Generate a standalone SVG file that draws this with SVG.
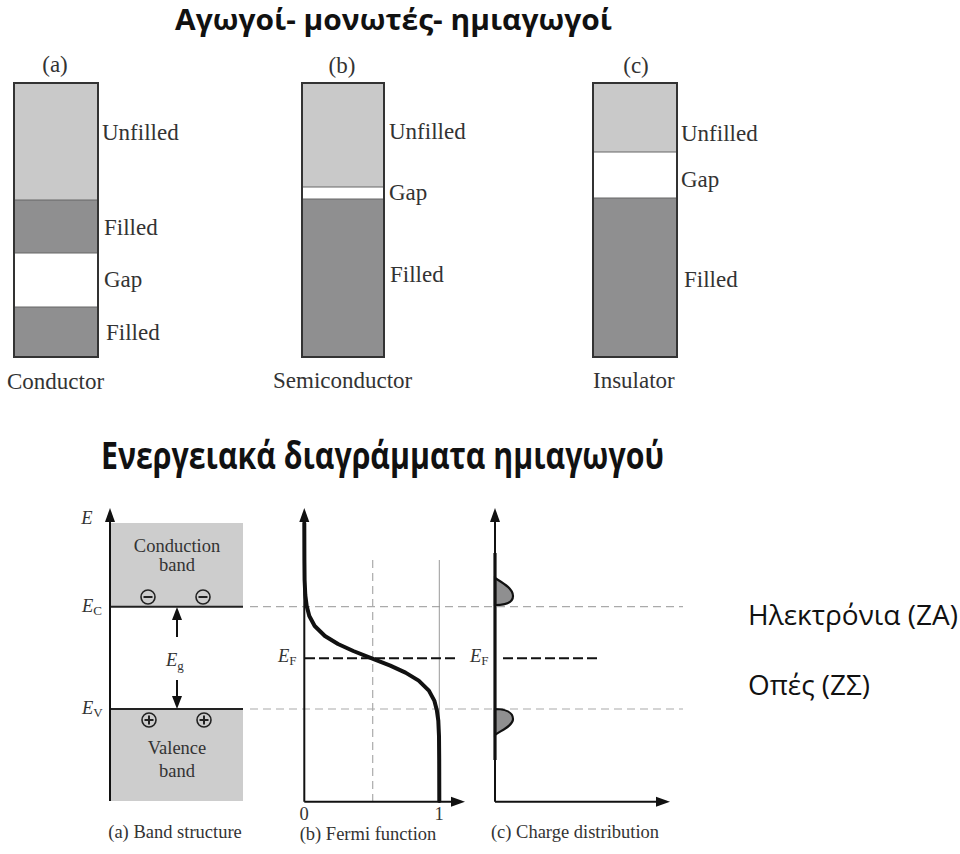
<svg xmlns="http://www.w3.org/2000/svg" width="960" height="854" viewBox="0 0 960 854">
<style>
.title{font-family:"Open Sans","Noto Sans","DejaVu Sans",sans-serif;font-weight:bold;fill:#111}
.greek{font-family:"Open Sans","Noto Sans","DejaVu Sans",sans-serif;fill:#111}
.lab{font-family:"Liberation Serif","Times New Roman",serif;font-size:23px;fill:#333}
.sm{font-family:"Liberation Serif","Times New Roman",serif;font-size:18.5px;fill:#333}
.it{font-style:italic}
.sub{font-size:13px}
.box{fill:none;stroke:#333;stroke-width:2}
.light{fill:#c9c9c9}
.dark{fill:#8f8f90}
.white{fill:#fff}
.sep{stroke:#666;stroke-width:1}
.band{fill:#cdcdcd}
.lvl{stroke:#222;stroke-width:2}
.axis{stroke:#111;stroke-width:2;fill:none}
.head{fill:#111}
.gdash{stroke:#aaa;stroke-width:1.2;stroke-dasharray:8 5;fill:none}
.gsolid{stroke:#999;stroke-width:1;fill:none}
.kdash{stroke:#111;stroke-width:2;stroke-dasharray:10 4;fill:none}
.circ{fill:none;stroke:#222;stroke-width:1.6}
.bump{fill:#8f8f90;stroke:#111;stroke-width:2.2}
</style>

<g id="title-top">
<text class="title" x="175" y="30" font-size="28" textLength="437" lengthAdjust="spacingAndGlyphs">Αγωγοί- μονωτές- ημιαγωγοί</text>
</g>

<g id="conductor">
<rect class="light" x="14" y="83" width="84" height="117"/>
<rect class="dark" x="14" y="200" width="84" height="53"/>
<rect class="white" x="14" y="253" width="84" height="54"/>
<rect class="dark" x="14" y="307" width="84" height="50"/>
<line class="sep" x1="14" y1="200" x2="98" y2="200"/>
<line class="sep" x1="14" y1="253" x2="98" y2="253"/>
<line class="sep" x1="14" y1="307" x2="98" y2="307"/>
<rect class="box" x="14" y="83" width="84" height="274"/>
<text class="lab" x="55" y="72" text-anchor="middle">(a)</text>
<text class="lab" x="102" y="140">Unfilled</text>
<text class="lab" x="104" y="235">Filled</text>
<text class="lab" x="104" y="287">Gap</text>
<text class="lab" x="106" y="340">Filled</text>
<text class="lab" x="7" y="389">Conductor</text>
</g>

<g id="semiconductor">
<rect class="light" x="302" y="83" width="82" height="104"/>
<rect class="white" x="302" y="187" width="82" height="12"/>
<rect class="dark" x="302" y="199" width="82" height="158"/>
<line class="sep" x1="302" y1="187" x2="384" y2="187"/>
<line class="sep" x1="302" y1="199" x2="384" y2="199"/>
<rect class="box" x="302" y="83" width="82" height="274"/>
<text class="lab" x="342" y="73" text-anchor="middle">(b)</text>
<text class="lab" x="389" y="139">Unfilled</text>
<text class="lab" x="389" y="200">Gap</text>
<text class="lab" x="390" y="282">Filled</text>
<text class="lab" x="273" y="388">Semiconductor</text>
</g>

<g id="insulator">
<rect class="light" x="593" y="83" width="84" height="69"/>
<rect class="white" x="593" y="152" width="84" height="46"/>
<rect class="dark" x="593" y="198" width="84" height="159"/>
<line class="sep" x1="593" y1="152" x2="677" y2="152"/>
<line class="sep" x1="593" y1="198" x2="677" y2="198"/>
<rect class="box" x="593" y="83" width="84" height="274"/>
<text class="lab" x="636" y="73" text-anchor="middle">(c)</text>
<text class="lab" x="681" y="141">Unfilled</text>
<text class="lab" x="681" y="187">Gap</text>
<text class="lab" x="684" y="287">Filled</text>
<text class="lab" x="593" y="388">Insulator</text>
</g>

<g id="title-bottom">
<text class="title" x="101" y="469" font-size="37" textLength="563" lengthAdjust="spacingAndGlyphs">Ενεργειακά διαγράμματα ημιαγωγού</text>
</g>

<g id="connectors">
<line class="gdash" x1="250" y1="606.7" x2="683" y2="606.7"/>
<line class="gdash" x1="250" y1="709" x2="683" y2="709"/>
<line class="gdash" x1="372.7" y1="560" x2="372.7" y2="801"/>
<line class="gsolid" x1="439.3" y1="560" x2="439.3" y2="801"/>
<line class="kdash" x1="305" y1="658.3" x2="458" y2="658.3"/>
<line class="kdash" x1="503" y1="658.3" x2="598" y2="658.3"/>
<line class="axis" x1="177" y1="637" x2="177" y2="618"/>
<polygon class="head" points="177,607 172,620 182,620"/>
<line class="axis" x1="177" y1="680" x2="177" y2="698"/>
<polygon class="head" points="177,709 172,696 182,696"/>
</g>

<g id="band-structure">
<rect class="band" x="110" y="523" width="133" height="84"/>
<rect class="band" x="110" y="709" width="133" height="92"/>
<line class="lvl" x1="110" y1="606.7" x2="243" y2="606.7"/>
<line class="lvl" x1="110" y1="709" x2="243" y2="709"/>
<line class="axis" x1="110" y1="801" x2="110" y2="518"/>
<polygon class="head" points="110,508 105,522 115,522"/>
<text class="sm it" x="87" y="524" text-anchor="middle">E</text>
<text class="sm" x="82" y="612"><tspan class="it">E</tspan><tspan class="sub" dy="3">C</tspan></text>
<text class="sm" x="82" y="714"><tspan class="it">E</tspan><tspan class="sub" dy="3">V</tspan></text>
<text class="sm" x="166" y="666"><tspan class="it">E</tspan><tspan class="sub" dy="4">g</tspan></text>
<text class="sm" x="177" y="552" text-anchor="middle">Conduction</text>
<text class="sm" x="177" y="571" text-anchor="middle">band</text>
<text class="sm" x="177" y="754" text-anchor="middle">Valence</text>
<text class="sm" x="177" y="777" text-anchor="middle">band</text>
<circle class="circ" cx="148" cy="597" r="7"/>
<line class="lvl" x1="143.5" y1="597" x2="152.5" y2="597"/>
<circle class="circ" cx="203" cy="597" r="7"/>
<line class="lvl" x1="198.5" y1="597" x2="207.5" y2="597"/>
<circle class="circ" cx="149" cy="720" r="7"/>
<path class="lvl" d="M144.5,720H153.5M149,715.5V724.5"/>
<circle class="circ" cx="204" cy="720" r="7"/>
<path class="lvl" d="M199.5,720H208.5M204,715.5V724.5"/>
<text class="sm" x="175" y="838" text-anchor="middle">(a) Band structure</text>
</g>

<g id="fermi-function">
<line class="axis" x1="304.3" y1="801.7" x2="304.3" y2="518"/>
<polygon class="head" points="304.3,508 299.3,522 309.3,522"/>
<line class="axis" x1="304.3" y1="801.7" x2="455" y2="801.7"/>
<polygon class="head" points="465,801.7 451,796.7 451,806.7"/>
<path d="M304.3,523 L304.4,560 L304.6,580 L305.3,595 L306.7,606 L309.3,616 L314.7,626 L324.9,636 L338,644 L353.3,651 L371.8,658.3 L390.3,665.6 L405.5,672.6 L418.7,680.6 L428.9,690.6 L434.3,700.6 L436.9,710.6 L438.3,720.6 L439,736 L439.2,760 L439.3,801" fill="none" stroke="#111" stroke-width="4" stroke-linejoin="round" stroke-linecap="round"/>
<text class="sm" x="278" y="662"><tspan class="it">E</tspan><tspan class="sub" dy="3">F</tspan></text>
<text class="sm" x="304" y="820" text-anchor="middle">0</text>
<text class="sm" x="439" y="820" text-anchor="middle">1</text>
<text class="sm" x="368" y="840" text-anchor="middle">(b) Fermi function</text>
</g>

<g id="charge-distribution">
<path class="bump" d="M495,578 C501,582 513,588 513,596 C513,603 505,605 495,605 Z"/>
<path class="bump" d="M495,709 C505,709 513,712 513,719 C513,726 500,731 495,735 Z"/>
<line class="axis" x1="495" y1="801.7" x2="495" y2="518"/>
<line x1="495" y1="553" x2="495" y2="760" stroke="#111" stroke-width="3.2"/>
<polygon class="head" points="495,508 490,522 500,522"/>
<line class="axis" x1="495" y1="801.7" x2="660" y2="801.7"/>
<polygon class="head" points="670,801.7 656,796.7 656,806.7"/>
<text class="sm" x="470" y="662"><tspan class="it">E</tspan><tspan class="sub" dy="3">F</tspan></text>
<text class="sm" x="575" y="838" text-anchor="middle">(c) Charge distribution</text>
</g>

<g id="electrons-label">
<text class="greek" x="748" y="625" font-size="27" textLength="210" lengthAdjust="spacingAndGlyphs">Ηλεκτρόνια (ΖΑ)</text>
</g>
<g id="holes-label">
<text class="greek" x="748" y="695" font-size="27" textLength="122" lengthAdjust="spacingAndGlyphs">Οπές (ΖΣ)</text>
</g>
</svg>
